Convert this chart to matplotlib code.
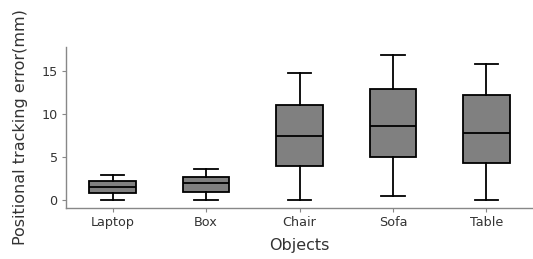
import matplotlib
matplotlib.use('Agg')
from matplotlib import pyplot as plt

objects = ['Laptop', 'Box', 'Chair', 'Sofa', 'Table']
whisker_low = [0.0, 0.0, 0.0, 0.5, 0.0]
q1 = [0.8, 0.9, 3.9, 5.0, 4.3]
median = [1.5, 1.95, 7.4, 8.6, 7.8]
q3 = [2.25, 2.7, 11.1, 12.9, 12.25]
whisker_high = [2.9, 3.6, 14.8, 16.9, 15.85]
yticks = [0, 5, 10, 15]

stats = []
for i, name in enumerate(objects):
    stats.append({'label': name, 'whislo': whisker_low[i], 'q1': q1[i],
                  'med': median[i], 'q3': q3[i], 'whishi': whisker_high[i]})

fig = plt.figure(figsize=(5.33, 2.59), dpi=100)
ax = fig.add_axes([66 / 533, 51 / 259, 1 - 66 / 533, 161 / 259])

line = dict(color='black', linewidth=1.3)
ax.bxp(stats, positions=range(len(objects)), widths=0.5, showfliers=False,
       patch_artist=True, capwidths=0.25,
       boxprops=dict(facecolor='#808080', edgecolor='black', linewidth=1.3),
       medianprops=line, whiskerprops=line, capprops=line)

ax.set_xlim(-0.5, 4.5)
ax.set_ylim(-0.93, 17.8)
ax.set_yticks(yticks)
ax.set_xticks(range(len(objects)))
ax.set_xticklabels(objects)

for s in ['top', 'right']:
    ax.spines[s].set_visible(False)
for s in ['left', 'bottom']:
    ax.spines[s].set_color('#888888')
    ax.spines[s].set_linewidth(1.0)
ax.tick_params(colors='#333333', labelsize=9.2, length=3, width=0.8, pad=3)
ax.tick_params(axis='both', color='#888888')

ax.set_xlabel('Objects', fontsize=11.5, color='#333333', labelpad=6)
ax.set_ylabel('Positional tracking error(mm)', fontsize=11.5, color='#333333', labelpad=10)

fig.savefig('out.png', dpi=100)
